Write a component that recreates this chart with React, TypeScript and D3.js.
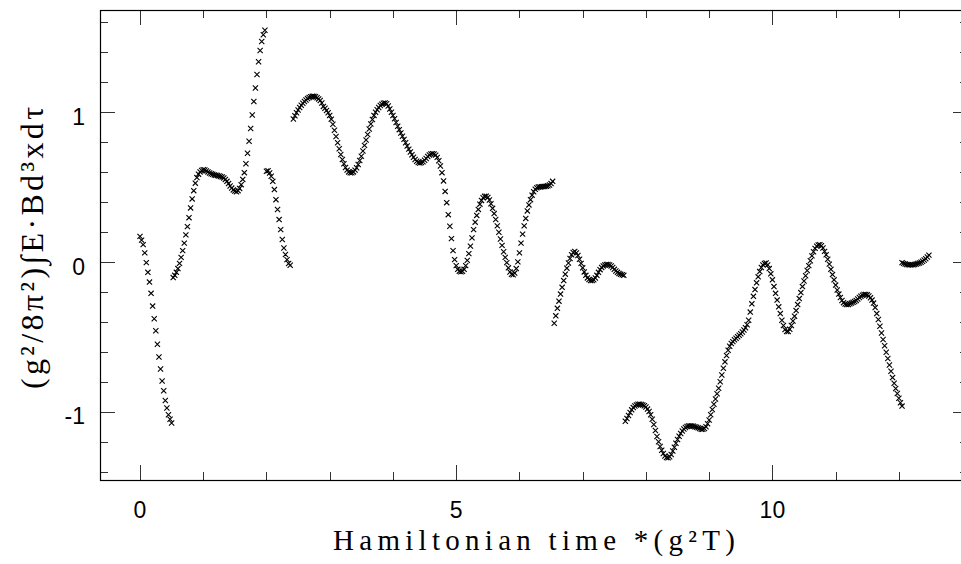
import React from "react";
import * as d3 from "d3";

// ---- data (Hamiltonian time segments, sampled every timeStep) ----
const timeStep = 0.025;
const segmentStarts = [0, 0.525, 2.0, 2.425, 6.55, 7.675, 12.05];

const seg1 = [0.17, 0.145, 0.115, 0.06, -0.005, -0.07, -0.135, -0.21, -0.295, -0.38, -0.46, -0.55, -0.635, -0.715, -0.795, -0.86, -0.925, -0.975, -1.02, -1.05, -1.075];

const seg2 = [
  -0.105, -0.09, -0.07, -0.045, -0.01, 0.03, 0.075, 0.125, 0.18, 0.235, 0.295, 0.36, 0.42, 0.475, 0.525, 0.562, 0.585, 0.6, 0.61,
  0.615, 0.613, 0.607, 0.6, 0.593, 0.588, 0.584, 0.58, 0.578, 0.576, 0.573, 0.57, 0.566, 0.56, 0.55, 0.537, 0.522, 0.506, 0.492, 0.48, 0.472,
  0.468, 0.475, 0.49, 0.515, 0.55, 0.595, 0.655, 0.725, 0.805, 0.89, 0.98, 1.07, 1.16, 1.25, 1.335, 1.41, 1.47, 1.515, 1.545,
];

const seg3 = [0.605, 0.608, 0.593, 0.571, 0.537, 0.482, 0.415, 0.349, 0.282, 0.215, 0.149, 0.093, 0.049, 0.015, -0.011, -0.023];

const seg4 = [
  0.953, 0.975, 0.995, 1.013, 1.03, 1.045, 1.058, 1.07, 1.08, 1.089, 1.096, 1.101, 1.104, 1.104, 1.101, 1.095, 1.087, 1.076, 1.06,
  1.037, 1.025, 1.01, 0.995, 0.977, 0.952, 0.918, 0.878, 0.836, 0.794, 0.754, 0.716, 0.683, 0.654, 0.63, 0.612, 0.6, 0.594, 0.594,
  0.6, 0.612, 0.628, 0.65, 0.676, 0.705, 0.74, 0.777, 0.813, 0.85, 0.886, 0.92, 0.95, 0.977, 0.998, 1.015, 1.03, 1.043, 1.052, 1.058,
  1.06, 1.055, 1.04, 1.02, 0.998, 0.976, 0.955, 0.93, 0.905, 0.882, 0.86, 0.838, 0.817, 0.795, 0.773, 0.752, 0.733, 0.715, 0.698,
  0.683, 0.671, 0.663, 0.66, 0.662, 0.668, 0.678, 0.69, 0.703, 0.713, 0.72, 0.722, 0.72, 0.712, 0.697, 0.675, 0.64, 0.595, 0.54,
  0.47, 0.395, 0.315, 0.237, 0.155, 0.075, 0.015, -0.025, -0.05, -0.062, -0.066, -0.063, -0.05, -0.025, 0.01, 0.055, 0.105, 0.16,
  0.215, 0.265, 0.31, 0.35, 0.385, 0.41, 0.428, 0.437, 0.438, 0.43, 0.413, 0.388, 0.357, 0.322, 0.283, 0.24, 0.197, 0.153, 0.11,
  0.068, 0.03, -0.005, -0.04, -0.068, -0.083, -0.086, -0.075, -0.045, 0.0, 0.06, 0.125, 0.185, 0.24, 0.29, 0.34, 0.38, 0.415, 0.445,
  0.468, 0.484, 0.494, 0.499, 0.5, 0.501, 0.502, 0.503, 0.505, 0.508, 0.513, 0.522, 0.537,
];

const seg5 = [
  -0.41, -0.36, -0.31, -0.262, -0.215, -0.17, -0.125, -0.082, -0.042, -0.008, 0.022, 0.047, 0.063, 0.07,
  0.06, 0.042, 0.018, -0.01, -0.04, -0.067, -0.09, -0.107, -0.118, -0.124, -0.125,
  -0.12, -0.108, -0.09, -0.07, -0.052, -0.037, -0.027, -0.021, -0.018, -0.018,
  -0.021, -0.028, -0.038, -0.05, -0.061, -0.07, -0.077, -0.082, -0.086, -0.09,
];

const seg6 = [
  -1.063, -1.045, -1.025, -1.005, -0.987, -0.972, -0.961, -0.954, -0.95, -0.949, -0.951, -0.954, -0.96, -0.968, -0.982, -0.998,
  -1.02, -1.05, -1.085, -1.125, -1.165, -1.2, -1.232, -1.257, -1.278, -1.295, -1.305, -1.307, -1.3, -1.285, -1.262, -1.236, -1.21,
  -1.185, -1.163, -1.145, -1.128, -1.115, -1.105, -1.098, -1.095, -1.094, -1.095, -1.097, -1.1, -1.103, -1.107, -1.112, -1.116,
  -1.117, -1.112, -1.1, -1.08, -1.055, -1.02, -0.985, -0.95, -0.915, -0.88, -0.843, -0.8, -0.755, -0.71, -0.667, -0.625, -0.59,
  -0.563, -0.545, -0.532, -0.52, -0.51, -0.5, -0.49, -0.48, -0.468, -0.455, -0.44, -0.42, -0.39, -0.335, -0.28, -0.23, -0.185,
  -0.14, -0.1, -0.065, -0.038, -0.02, -0.01, -0.008, -0.02, -0.045, -0.08, -0.12, -0.165, -0.21, -0.255, -0.3, -0.345, -0.39,
  -0.425, -0.452, -0.465, -0.465, -0.45, -0.425, -0.395, -0.362, -0.325, -0.285, -0.245, -0.205, -0.165, -0.128, -0.093, -0.058,
  -0.025, 0.008, 0.04, 0.068, 0.09, 0.105, 0.113, 0.115, 0.108, 0.092, 0.07, 0.047, 0.017, -0.015, -0.05, -0.085, -0.12, -0.155,
  -0.188, -0.215, -0.238, -0.258, -0.272, -0.281, -0.285, -0.284, -0.28, -0.275, -0.27, -0.264, -0.257, -0.248, -0.238, -0.229,
  -0.222, -0.218, -0.217, -0.22, -0.228, -0.24, -0.255, -0.275, -0.305, -0.345, -0.385, -0.43, -0.475, -0.518, -0.56, -0.603,
  -0.645, -0.688, -0.73, -0.772, -0.81, -0.845, -0.878, -0.91, -0.94, -0.962,
];

const seg7 = [-0.005, -0.01, -0.014, -0.017, -0.019, -0.02, -0.02, -0.019, -0.017, -0.014, -0.011, -0.007, -0.002, 0.004, 0.012, 0.021, 0.032, 0.045];

const segments = [seg1, seg2, seg3, seg4, seg5, seg6, seg7];

const xMajorTicks = [0, 5, 10];
const xMinorTicks = [1, 2, 3, 4, 6, 7, 8, 9, 11, 12, 13];
const yMajorTicks = [-1, 0, 1];
const yMinorTicks = [-1.4, -1.2, -0.8, -0.6, -0.4, -0.2, 0.2, 0.4, 0.6, 0.8, 1.2, 1.4, 1.6];
const xTickLabels = ["0", "5", "10"];
const yTickLabels = ["-1", "0", "1"];

const xTitle = "Hamiltonian time *(g\u00B2T)";
const yTitle = "(g\u00B2/8\u03C0\u00B2)\u222BE\u00B7Bd\u00B3xd\u03C4";

// ---- layout ----
const W = 961;
const H = 564;
const left = 100;
const right = 968;
const top = 10;
const bottom = 480;

export default function App() {
  const x = d3.scaleLinear().domain([-0.6325, 13.093]).range([left, right]);
  const y = d3.scaleLinear().domain([-1.455, 1.68]).range([bottom, top]);

  const points: { t: number; v: number }[] = [];
  segments.forEach((seg, si) => {
    seg.forEach((v, i) => points.push({ t: segmentStarts[si] + i * timeStep, v }));
  });

  const major = 15;
  const minor = 8;
  const tickColor = "#333";
  const s = 2.6;
  const crossPath = `M${-s},${-s}L${s},${s}M${-s},${s}L${s},${-s}`;

  return (
    <svg
      width={W}
      height={H}
      style={{ position: "absolute", left: 0, top: 0, background: "#fff" }}
      xmlns="http://www.w3.org/2000/svg"
    >
      <rect x={0} y={0} width={W} height={H} fill="#fff" />
      {/* ticks */}
      <g stroke={tickColor} strokeWidth={1}>
        {xMajorTicks.map((t) => (
          <g key={"xM" + t}>
            <line x1={Math.round(x(t)) + 0.5} x2={Math.round(x(t)) + 0.5} y1={bottom} y2={bottom - major} />
            <line x1={Math.round(x(t)) + 0.5} x2={Math.round(x(t)) + 0.5} y1={top} y2={top + major} />
          </g>
        ))}
        {xMinorTicks.map((t) => (
          <g key={"xm" + t}>
            <line x1={Math.round(x(t)) + 0.5} x2={Math.round(x(t)) + 0.5} y1={bottom} y2={bottom - minor} />
            <line x1={Math.round(x(t)) + 0.5} x2={Math.round(x(t)) + 0.5} y1={top} y2={top + minor} />
          </g>
        ))}
        {yMajorTicks.map((v) => (
          <g key={"yM" + v}>
            <line x1={left} x2={left + major} y1={Math.round(y(v)) + 0.5} y2={Math.round(y(v)) + 0.5} />
            <line x1={right} x2={right - major} y1={Math.round(y(v)) + 0.5} y2={Math.round(y(v)) + 0.5} />
          </g>
        ))}
        {yMinorTicks.map((v) => (
          <g key={"ym" + v}>
            <line x1={left} x2={left + minor} y1={Math.round(y(v)) + 0.5} y2={Math.round(y(v)) + 0.5} />
            <line x1={right} x2={right - minor} y1={Math.round(y(v)) + 0.5} y2={Math.round(y(v)) + 0.5} />
          </g>
        ))}
      </g>
      {/* frame */}
      <rect
        x={left + 0.5}
        y={top + 0.5}
        width={right - left}
        height={bottom - top}
        fill="none"
        stroke="#000"
        strokeWidth={1.2}
      />
      {/* data */}
      <g stroke="#000" strokeWidth={1.1} fill="none">
        {points.map((p, i) => (
          <path key={i} d={crossPath} transform={`translate(${x(p.t)},${y(p.v)})`} />
        ))}
      </g>
      {/* tick labels */}
      <g fontFamily="'Liberation Sans', Arial, sans-serif" fontSize={23} fill="#000">
        {xMajorTicks.map((t, i) => (
          <text key={"xl" + t} x={x(t)} y={517.5} textAnchor="middle">
            {xTickLabels[i]}
          </text>
        ))}
        {yMajorTicks.map((v, i) => (
          <text key={"yl" + v} x={85} y={y(v) + 12.7} textAnchor="end">
            {yTickLabels[i]}
          </text>
        ))}
      </g>
      {/* axis titles */}
      <text
        x={534}
        y={550}
        textAnchor="middle"
        fontFamily="'Liberation Serif', 'DejaVu Serif', serif"
        fontSize={29}
        textLength={402}
        lengthAdjust="spacing"
        fill="#000"
      >
        {xTitle}
      </text>
      <text
        transform="translate(43,248) rotate(-90)"
        textAnchor="middle"
        fontFamily="'Liberation Serif', 'DejaVu Serif', serif"
        fontSize={32}
        textLength={282}
        lengthAdjust="spacing"
        fill="#000"
      >
        {yTitle}
      </text>
    </svg>
  );
}
